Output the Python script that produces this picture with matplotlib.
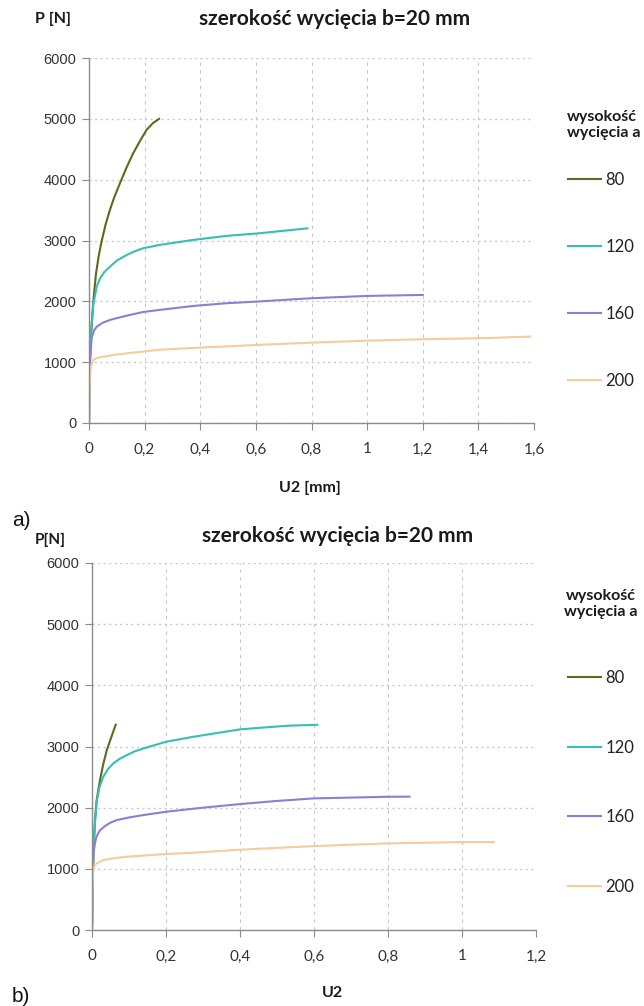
import matplotlib
matplotlib.use("Agg")
import matplotlib.pyplot as plt
from matplotlib.lines import Line2D

plt.rcParams['font.family'] = ['Lato', 'DejaVu Sans']

# ---------------- data ----------------
series_labels = ["80", "120", "160", "200"]
series_colors = ["#5b6b1e", "#35c0b2", "#8a80d2", "#f6cb9e"]

# panel a)
a80_x = [0, 0.002, 0.004, 0.008, 0.0155, 0.025, 0.035, 0.045, 0.06, 0.075, 0.09, 0.112, 0.135, 0.159, 0.185, 0.207, 0.23, 0.252]
a80_y = [0, 700, 1100, 1500, 2000, 2450, 2750, 2980, 3270, 3500, 3700, 3950, 4200, 4436, 4650, 4819, 4930, 5000]
a120_x = [0, 0.002, 0.004, 0.008, 0.0155, 0.0277, 0.04, 0.055, 0.0755, 0.1, 0.136, 0.165, 0.195, 0.255, 0.375, 0.495, 0.615, 0.7, 0.785]
a120_y = [0, 700, 1100, 1500, 1950, 2242, 2380, 2480, 2571, 2670, 2763, 2825, 2873, 2928, 3010, 3076, 3120, 3160, 3200]
a160_x = [0, 0.002, 0.004, 0.0097, 0.018, 0.028, 0.05, 0.0755, 0.105, 0.136, 0.195, 0.255, 0.375, 0.495, 0.6, 0.8, 1.0, 1.2]
a160_y = [0, 700, 1050, 1400, 1520, 1584, 1650, 1694, 1730, 1765, 1825, 1860, 1924, 1969, 1995, 2051, 2089, 2105]
a200_x = [0, 0.002, 0.004, 0.008, 0.0155, 0.03, 0.051, 0.09, 0.136, 0.255, 0.4, 0.5, 0.6, 0.8, 1.0, 1.2, 1.4, 1.586]
a200_y = [0, 500, 800, 950, 1036, 1070, 1090, 1120, 1146, 1205, 1240, 1260, 1283, 1321, 1354, 1377, 1393, 1420]

# panel b)
b80_x = [0, 0.002, 0.004, 0.008, 0.0127, 0.0216, 0.03, 0.04, 0.052, 0.064]
b80_y = [0, 800, 1300, 1800, 2124, 2451, 2700, 2941, 3150, 3356]
b120_x = [0, 0.002, 0.004, 0.008, 0.0127, 0.02, 0.0305, 0.043, 0.0576, 0.075, 0.094, 0.115, 0.139, 0.2, 0.274, 0.4, 0.454, 0.53, 0.609]
b120_y = [0, 800, 1300, 1750, 2100, 2330, 2505, 2630, 2723, 2800, 2859, 2920, 2968, 3077, 3159, 3280, 3306, 3340, 3355]
b160_x = [0, 0.002, 0.004, 0.008, 0.012, 0.02, 0.035, 0.05, 0.067, 0.1, 0.139, 0.2, 0.3, 0.4, 0.5, 0.6, 0.8, 0.858]
b160_y = [0, 900, 1250, 1420, 1520, 1620, 1700, 1755, 1797, 1840, 1879, 1933, 2000, 2059, 2110, 2152, 2178, 2180]
b200_x = [0, 0.001, 0.003, 0.006, 0.01, 0.03, 0.06, 0.094, 0.2, 0.292, 0.4, 0.6, 0.8, 1.0, 1.086]
b200_y = [0, 600, 950, 1040, 1080, 1144, 1175, 1198, 1242, 1270, 1313, 1372, 1416, 1438, 1438]

a_xticks = [0, 0.2, 0.4, 0.6, 0.8, 1.0, 1.2, 1.4, 1.6]
a_xticklabels = ["0", "0,2", "0,4", "0,6", "0,8", "1", "1,2", "1,4", "1,6"]
b_xticks = [0, 0.2, 0.4, 0.6, 0.8, 1.0, 1.2]
b_xticklabels = ["0", "0,2", "0,4", "0,6", "0,8", "1", "1,2"]
yticks = [0, 1000, 2000, 3000, 4000, 5000, 6000]

title_text = "szerokość wycięcia b=20 mm"
legend_title = "wysokość\nwycięcia a"

W, H = 644, 1006
fig = plt.figure(figsize=(W / 100, H / 100), dpi=100)
fig.patch.set_facecolor("white")


def px_axes(l, t, r, b):
    return fig.add_axes([l / W, 1 - b / H, (r - l) / W, (b - t) / H])


def style(ax, xticks, xlabels, xmax):
    ax.set_xlim(0, xmax)
    ax.set_ylim(0, 6000)
    ax.set_xticks(xticks)
    ax.set_xticklabels(xlabels, fontsize=11)
    ax.set_yticks(yticks)
    ax.set_yticklabels([str(v) for v in yticks], family=['Liberation Sans'], fontsize=10.5)
    for s in ["top", "right"]:
        ax.spines[s].set_visible(False)
    for s in ["left", "bottom"]:
        ax.spines[s].set_color("#8c8c8c")
        ax.spines[s].set_linewidth(1.0)
    ax.tick_params(axis="both", colors="#8c8c8c", length=5, width=0.8, labelcolor="#333333")
    ax.tick_params(axis="x", pad=9)
    ax.tick_params(axis="y", pad=4)
    ax.yaxis.grid(True, color="#c8c8c8", linestyle=(0, (1.5, 2.5)), linewidth=1.0)
    ax.xaxis.grid(True, color="#c8c8c8", linestyle=(0, (3, 4)), linewidth=0.8)
    ax.set_axisbelow(True)


LW = 1.5

# panel a
ax1 = px_axes(89, 58, 534, 423)
for (xs, ys), c, lab in zip([(a80_x, a80_y), (a120_x, a120_y), (a160_x, a160_y), (a200_x, a200_y)],
                            series_colors, series_labels):
    ax1.plot(xs, ys, color=c, lw=LW, label=lab, solid_joinstyle="round")
style(ax1, a_xticks, a_xticklabels, 1.6)

# panel b
ax2 = px_axes(92, 563, 536, 930)
for (xs, ys), c, lab in zip([(b80_x, b80_y), (b120_x, b120_y), (b160_x, b160_y), (b200_x, b200_y)],
                            series_colors, series_labels):
    ax2.plot(xs, ys, color=c, lw=LW, label=lab, solid_joinstyle="round")
style(ax2, b_xticks, b_xticklabels, 1.2)

# titles and labels
fig.text(335 / W, 1 - 19 / H, title_text, ha="center", va="center", fontsize=15, fontweight="bold", color="#1a1a1a")
fig.text(53 / W, 1 - 19 / H, "P [N]", ha="center", va="center", fontsize=11.5, fontweight="bold", color="#1a1a1a")
fig.text(310 / W, 1 - 488 / H, "U2 [mm]", ha="center", va="center", fontsize=11.5, fontweight="bold", color="#1a1a1a")
fig.text(12 / W, 1 - 520 / H, "a)", ha="left", va="center", fontsize=15, color="#111111", family=['Liberation Sans'])

fig.text(338 / W, 1 - 536 / H, title_text, ha="center", va="center", fontsize=15, fontweight="bold", color="#1a1a1a")
fig.text(50 / W, 1 - 540 / H, "P[N]", ha="center", va="center", fontsize=11, fontweight="bold", color="#1a1a1a")
fig.text(333 / W, 1 - 993 / H, "U2", ha="center", va="center", fontsize=11.5, fontweight="bold", color="#1a1a1a")
fig.text(12 / W, 1 - 996 / H, "b)", ha="left", va="center", fontsize=15, color="#111111", family=['Liberation Sans'])


def add_legend(ax, title_top, title_x, title_align, first_y, spacing):
    fig.text(title_x / W, 1 - title_top / H, legend_title, ha="left" if title_align == "left" else "center",
             va="top", fontsize=11.5, fontweight="bold", color="#1a1a1a", multialignment=title_align,
             linespacing=1.15)
    handles = [Line2D([0], [0], color=c, lw=LW) for c in series_colors]
    leg = ax.legend(handles, series_labels, loc="upper left",
                    bbox_to_anchor=(568 / W, 1 - (first_y - 12) / H), bbox_transform=fig.transFigure,
                    frameon=False, fontsize=12, handlelength=2.0, handletextpad=0.25,
                    labelspacing=spacing, borderaxespad=0, borderpad=0)
    for t in leg.get_texts():
        t.set_color("#222222")
    return leg


add_legend(ax1, 110, 567, "left", 184, 3.05)
add_legend(ax2, 589, 601, "center", 682, 3.22)

fig.savefig("out.png", dpi=100, facecolor="white")
